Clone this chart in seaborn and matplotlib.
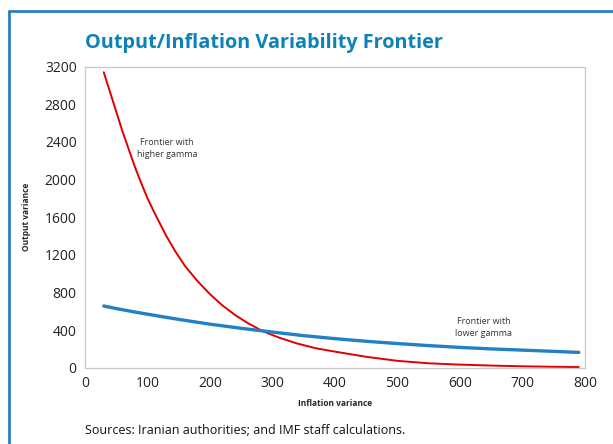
import seaborn as sns
import matplotlib.pyplot as plt
import matplotlib.lines as mlines
import pandas as pd
import numpy as np

# values
red_x = [30, 40, 50, 60, 70, 80, 90, 100, 110, 120, 130, 145, 160, 180, 200, 220,
         240, 260, 285, 310, 340, 370, 400, 450, 500, 550, 600, 650, 700, 750, 790]
higher_gamma = [3140, 2930, 2720, 2510, 2320, 2130, 1960, 1800, 1660, 1530, 1400,
                1230, 1080, 920, 780, 660, 560, 475, 385, 320, 255, 205, 170, 115,
                72, 46, 32, 22, 14, 9, 6]

blue_x = [30, 50, 75, 100, 125, 150, 175, 200, 250, 300, 350, 400, 450, 500,
          550, 600, 650, 700, 750, 790]
lower_gamma = [655, 628, 597, 568, 540, 513, 487, 462, 418, 378, 340, 308, 280,
               256, 234, 215, 199, 186, 173, 162]

x_ticks = np.arange(0, 900, 100)
y_ticks = np.arange(0, 3600, 400)

TITLE_BLUE = '#0b83b9'
RED = '#e00000'
BLUE = '#2280c6'


def plot_frontier():
    red = pd.DataFrame({'inflation': red_x, 'output': higher_gamma})
    blue = pd.DataFrame({'inflation': blue_x, 'output': lower_gamma})

    sns.set_style('white')
    plt.rcParams['font.family'] = ['Open Sans', 'DejaVu Sans']

    fig = plt.figure(figsize=(6.13, 4.44), dpi=100)
    ax = fig.add_axes([0.1387, 0.172, 0.8157, 0.678])

    sns.lineplot(x='inflation', y='output', data=red, color=RED, lw=1.4, ax=ax)
    sns.lineplot(x='inflation', y='output', data=blue, color=BLUE, lw=2.4, ax=ax)

    ax.set_xlim(0, 800)
    ax.set_ylim(0, 3200)
    ax.set_xticks(x_ticks)
    ax.set_yticks(y_ticks)
    ax.tick_params(direction='in', length=4, color='#c8c8c8', labelsize=10,
                   pad=6, labelcolor='#222222')
    for s in ax.spines.values():
        s.set_color('#c8c8c8')
        s.set_linewidth(0.9)

    ax.set_xlabel('Inflation variance', fontsize=6, fontweight='bold', labelpad=6)
    ax.set_ylabel('Output variance', fontsize=6, fontweight='bold', labelpad=10)

    ax.text(131, 2330, 'Frontier with\nhigher gamma', fontsize=6.5, ha='center',
            va='center', color='#333333', linespacing=1.5)
    ax.text(638, 425, 'Frontier with\nlower gamma', fontsize=6.5, ha='center',
            va='center', color='#333333', linespacing=1.5)

    fig.text(85 / 613, 1 - 43 / 444, 'Output/Inflation Variability Frontier',
             fontsize=14.3, fontweight='bold', color=TITLE_BLUE, va='center')
    fig.text(85 / 613, 1 - 430 / 444, 'Sources: Iranian authorities; and IMF staff calculations.',
             fontsize=9, color='#111111', va='center')

    # blue frame on left and top
    fig.add_artist(mlines.Line2D([9 / 613, 9 / 613], [0, 1 - 11 / 444],
                                 color='#2a7fc0', lw=2, transform=fig.transFigure))
    fig.add_artist(mlines.Line2D([9 / 613, 1], [1 - 11 / 444, 1 - 11 / 444],
                                 color='#2a7fc0', lw=2, transform=fig.transFigure))

    fig.savefig('out.png', dpi=100)


if __name__ == '__main__':
    plot_frontier()
